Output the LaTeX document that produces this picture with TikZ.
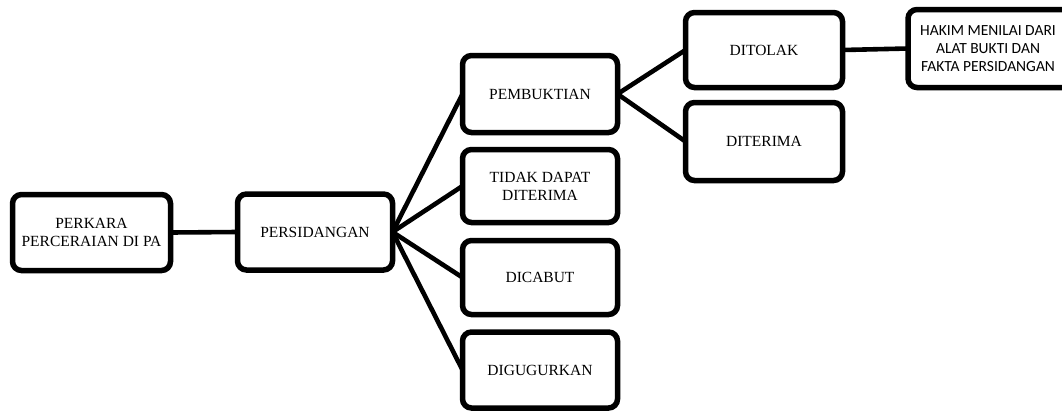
\documentclass[tikz,border=0pt]{standalone}
\usepackage{fontspec}
\setmainfont{Liberation Serif}
\newfontfamily\hakimfont{Carlito}
\begin{document}
\begin{tikzpicture}[x=1pt,y=-1pt,
  box/.style={draw=black, line width=5.5pt, rounded corners=9pt, fill=white,
    outer sep=0pt, minimum width=155pt, minimum height=76pt, align=center,
    font=\fontsize{15.5}{18}\selectfont},
  link/.style={line width=4.6pt}]
\useasboundingbox (0,0) rectangle (1062,410);
\node[box, minimum width=158pt] (perkara) at (91.5,232.5) {PERKARA\\PERCERAIAN DI PA};
\node[box] (sidang) at (315,232) {PERSIDANGAN};
\node[box, minimum height=77pt] (bukti) at (540,94) {PEMBUKTIAN};
\node[box, minimum height=73pt] (tidak) at (540,186) {TIDAK DAPAT\\DITERIMA};
\node[box, minimum height=74pt] (cabut) at (540,277.5) {DICABUT};
\node[box] (gugur) at (540,370) {DIGUGURKAN};
\node[box, minimum width=157pt, minimum height=75pt] (tolak) at (764,50) {DITOLAK};
\node[box, minimum width=157pt, minimum height=78pt] (terima) at (764,141.5) {DITERIMA};
\node[box, minimum width=172pt, minimum height=78pt,
  label={[font=\hakimfont\fontsize{15.5}{18}\selectfont, align=center,
    xshift=-6pt]center:HAKIM MENILAI DARI\\ALAT BUKTI DAN\\FAKTA PERSIDANGAN}]
  (hakim) at (994,48.5) {};
\draw[link] (perkara.east) -- (sidang.west);
\draw[link] (sidang.east) -- (bukti.west);
\draw[link] (sidang.east) -- (tidak.west);
\draw[link] (sidang.east) -- (cabut.west);
\draw[link] (sidang.east) -- (gugur.west);
\draw[link] (bukti.east) -- (tolak.west);
\draw[link] (bukti.east) -- (terima.west);
\draw[link] (tolak.east) -- (hakim.west);
\end{tikzpicture}
\end{document}
